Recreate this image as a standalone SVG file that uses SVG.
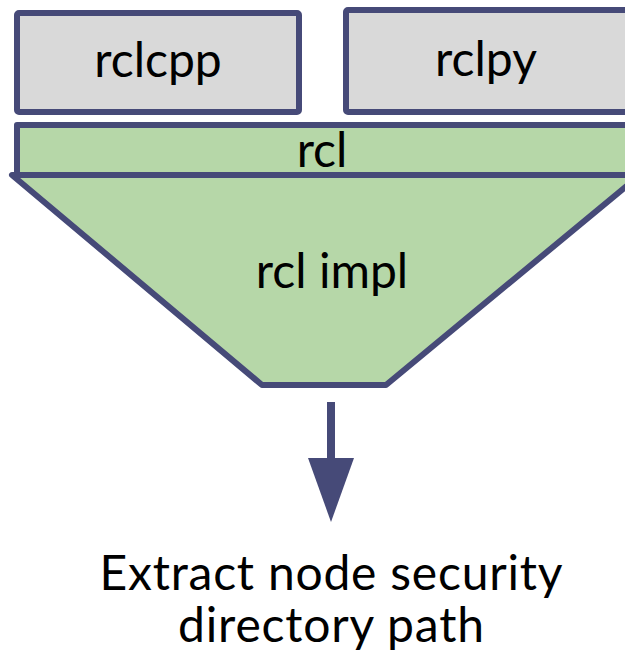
<svg xmlns="http://www.w3.org/2000/svg" width="625" height="656" viewBox="0 0 625 656">
  <style>
    .box { stroke: #464a78; stroke-width: 6; stroke-linejoin: round; }
    .gray { fill: #d9d9d9; }
    .green { fill: #b6d7a8; }
    .lbl { font-family: Lato, "Liberation Sans", sans-serif; font-size: 48px; fill: #000; text-anchor: middle; }
    .cap { font-family: Lato, "Open Sans", sans-serif; font-size: 48px; fill: #000; text-anchor: middle; }
  </style>
  <rect width="625" height="656" fill="#fff"/>

  <g id="rclcpp">
    <rect class="box gray" x="17" y="13" width="282" height="99" rx="2"/>
    <text class="lbl" x="158" y="77">rclcpp</text>
  </g>

  <g id="rclpy">
    <rect class="box gray" x="346" y="10" width="300" height="102" rx="2"/>
    <text class="lbl" x="486" y="76">rclpy</text>
  </g>

  <g id="rcl_impl">
    <polygon class="box green" points="12,175 640,175 386,385 262,385"/>
    <text class="lbl" x="332" y="288">rcl impl</text>
  </g>

  <g id="rcl">
    <rect class="box green" x="17" y="125" width="630" height="50"/>
    <text class="lbl" x="322" y="167">rcl</text>
  </g>

  <g id="connectors">
    <rect x="327" y="402" width="8" height="58" fill="#464a78"/>
    <polygon points="308,458 354,458 331,522" fill="#464a78"/>
  </g>

  <g id="caption">
    <text class="cap" x="331" y="590" textLength="463" lengthAdjust="spacing">Extract node security</text>
    <text class="cap" x="331" y="642" textLength="306" lengthAdjust="spacing">directory path</text>
  </g>
</svg>
